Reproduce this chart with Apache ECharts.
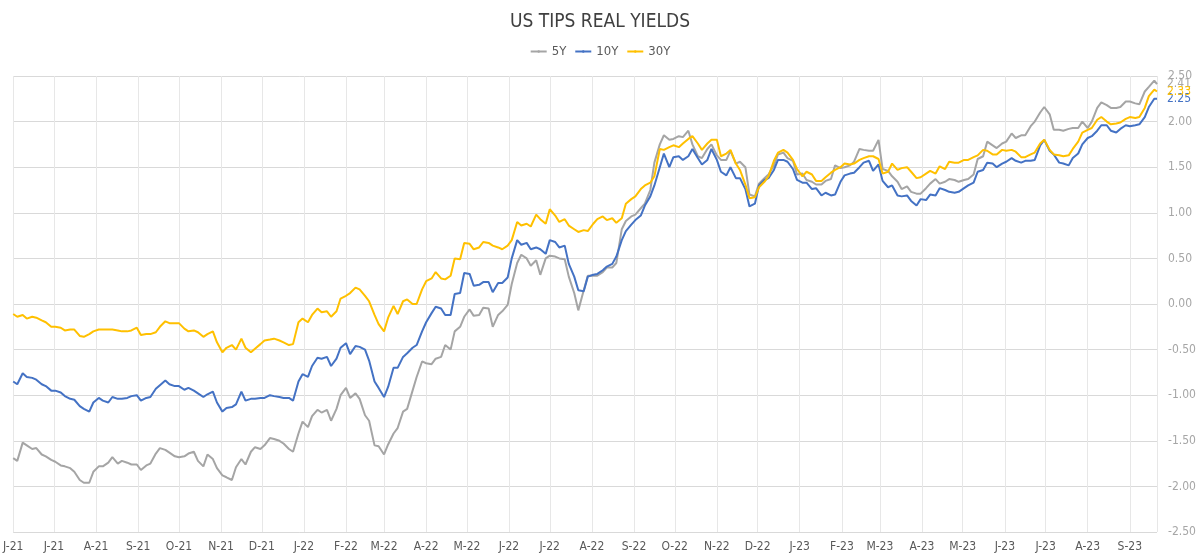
<!DOCTYPE html>
<html lang="en">

<head>
    <meta charset="UTF-8">
    <title>US TIPS Real Yields</title>
    <style>
        html,
        body {
            height: 100%;
            width: 100%;
            margin: 0;
            padding: 0;
            background: #fff;
        }
    </style>
</head>

<body>
    <div id="main" style="width: 1200px;height:558px;"></div>
    <script src="https://cdn.jsdelivr.net/npm/echarts@6/dist/echarts.min.js"></script>
    <script type="text/javascript">
        // observation dates (Tue / Fri)
        var dates = [
            '2021-06-01', '2021-06-04', '2021-06-08', '2021-06-11', '2021-06-15', '2021-06-18', '2021-06-22', '2021-06-25', '2021-06-29',
            '2021-07-02', '2021-07-06', '2021-07-09', '2021-07-13', '2021-07-16', '2021-07-20', '2021-07-23', '2021-07-27', '2021-07-30',
            '2021-08-03', '2021-08-06', '2021-08-10', '2021-08-13', '2021-08-17', '2021-08-20', '2021-08-24', '2021-08-27', '2021-08-31',
            '2021-09-03', '2021-09-07', '2021-09-10', '2021-09-14', '2021-09-17', '2021-09-21', '2021-09-24', '2021-09-28',
            '2021-10-01', '2021-10-05', '2021-10-08', '2021-10-12', '2021-10-15', '2021-10-19', '2021-10-22', '2021-10-26', '2021-10-29',
            '2021-11-02', '2021-11-05', '2021-11-09', '2021-11-12', '2021-11-16', '2021-11-19', '2021-11-23', '2021-11-26', '2021-11-30',
            '2021-12-03', '2021-12-07', '2021-12-10', '2021-12-14', '2021-12-17', '2021-12-21', '2021-12-24', '2021-12-28', '2021-12-31',
            '2022-01-04', '2022-01-07', '2022-01-11', '2022-01-14', '2022-01-18', '2022-01-21', '2022-01-25', '2022-01-28',
            '2022-02-01', '2022-02-04', '2022-02-08', '2022-02-11', '2022-02-15', '2022-02-18', '2022-02-22', '2022-02-25',
            '2022-03-01', '2022-03-04', '2022-03-08', '2022-03-11', '2022-03-15', '2022-03-18', '2022-03-22', '2022-03-25', '2022-03-29',
            '2022-04-01', '2022-04-05', '2022-04-08', '2022-04-12', '2022-04-15', '2022-04-19', '2022-04-22', '2022-04-26', '2022-04-29',
            '2022-05-03', '2022-05-06', '2022-05-10', '2022-05-13', '2022-05-17', '2022-05-20', '2022-05-24', '2022-05-27',
            '2022-05-31', '2022-06-03', '2022-06-07', '2022-06-10', '2022-06-14', '2022-06-17', '2022-06-21', '2022-06-24', '2022-06-28',
            '2022-07-01', '2022-07-05', '2022-07-08', '2022-07-12', '2022-07-15', '2022-07-19', '2022-07-22', '2022-07-26', '2022-07-29',
            '2022-08-02', '2022-08-05', '2022-08-09', '2022-08-12', '2022-08-16', '2022-08-19', '2022-08-23', '2022-08-26', '2022-08-30',
            '2022-09-02', '2022-09-06', '2022-09-09', '2022-09-13', '2022-09-16', '2022-09-20', '2022-09-23', '2022-09-27', '2022-09-30',
            '2022-10-04', '2022-10-07', '2022-10-11', '2022-10-14', '2022-10-18', '2022-10-21', '2022-10-25', '2022-10-28',
            '2022-11-01', '2022-11-04', '2022-11-08', '2022-11-11',
            '2022-11-15', '2022-11-18', '2022-11-22', '2022-11-25', '2022-11-29',
            '2022-12-02', '2022-12-06', '2022-12-09', '2022-12-13', '2022-12-16', '2022-12-20', '2022-12-23', '2022-12-27', '2022-12-30',
            '2023-01-03', '2023-01-06', '2023-01-10', '2023-01-13', '2023-01-17', '2023-01-20', '2023-01-24', '2023-01-27', '2023-01-31',
            '2023-02-03', '2023-02-07', '2023-02-10', '2023-02-14', '2023-02-17', '2023-02-21', '2023-02-24', '2023-02-28',
            '2023-03-03', '2023-03-07', '2023-03-10', '2023-03-14', '2023-03-17', '2023-03-21', '2023-03-24', '2023-03-28', '2023-03-31',
            '2023-04-04', '2023-04-07', '2023-04-11', '2023-04-14', '2023-04-18', '2023-04-21', '2023-04-25', '2023-04-28',
            '2023-05-02', '2023-05-05',
            '2023-05-09', '2023-05-12', '2023-05-16', '2023-05-19', '2023-05-23', '2023-05-26', '2023-05-30',
            '2023-06-02', '2023-06-06', '2023-06-09', '2023-06-13', '2023-06-16', '2023-06-20', '2023-06-23', '2023-06-27', '2023-06-30',
            '2023-07-04', '2023-07-07', '2023-07-11', '2023-07-14', '2023-07-18', '2023-07-21', '2023-07-25', '2023-07-28',
            '2023-08-01', '2023-08-04', '2023-08-08', '2023-08-11', '2023-08-15', '2023-08-18', '2023-08-22', '2023-08-25', '2023-08-29',
            '2023-09-01', '2023-09-05', '2023-09-08', '2023-09-12', '2023-09-15', '2023-09-19', '2023-09-21'
        ];

        var y5 = [
            -1.69, -1.72, -1.52, -1.55, -1.59, -1.58, -1.65, -1.67, -1.71,
            -1.73, -1.77, -1.78, -1.80, -1.84, -1.93, -1.96, -1.96, -1.84,
            -1.78, -1.78, -1.74, -1.68, -1.75, -1.72, -1.74, -1.76, -1.76,
            -1.82, -1.77, -1.75, -1.64, -1.58, -1.60, -1.63, -1.67,
            -1.68, -1.67, -1.64, -1.62, -1.72, -1.78, -1.65, -1.70, -1.80,
            -1.88, -1.90, -1.93, -1.79, -1.70, -1.76, -1.62, -1.57, -1.59,
            -1.55, -1.47, -1.48, -1.50, -1.53, -1.59, -1.62, -1.42, -1.29,
            -1.35, -1.23, -1.16, -1.19, -1.16, -1.28, -1.15, -1.00,
            -0.92, -1.03, -0.98, -1.04, -1.22, -1.28, -1.55, -1.56,
            -1.65, -1.54, -1.42, -1.36, -1.18, -1.15, -0.95, -0.80, -0.63,
            -0.65, -0.66, -0.60, -0.58, -0.45, -0.50, -0.30, -0.25, -0.14,
            -0.06, -0.13, -0.12, -0.04, -0.05, -0.25, -0.12, -0.08,
            -0.01, 0.22, 0.45, 0.54, 0.50, 0.42, 0.48, 0.32, 0.50,
            0.53, 0.52, 0.50, 0.49, 0.30, 0.12, -0.07, 0.15, 0.31,
            0.31, 0.31, 0.35, 0.40, 0.40, 0.45, 0.82, 0.91, 0.96,
            0.98, 1.05, 1.10, 1.25, 1.55, 1.75, 1.85, 1.80, 1.81,
            1.84, 1.83, 1.90, 1.75, 1.62, 1.60, 1.70, 1.75,
            1.63, 1.58, 1.58, 1.68,
            1.54, 1.56, 1.50, 1.20, 1.18,
            1.32, 1.38, 1.42, 1.52, 1.64, 1.66, 1.60, 1.57, 1.42,
            1.43, 1.36, 1.34, 1.31, 1.31, 1.35, 1.37, 1.52, 1.49,
            1.50, 1.52, 1.56, 1.70, 1.69, 1.68, 1.68, 1.80,
            1.48, 1.46, 1.40, 1.34, 1.26, 1.29, 1.23, 1.21, 1.21,
            1.27, 1.32, 1.37, 1.32, 1.34, 1.37, 1.36, 1.34,
            1.36, 1.37,
            1.42, 1.59, 1.62, 1.78, 1.74, 1.71, 1.76,
            1.78, 1.87, 1.82, 1.85, 1.85, 1.95, 2.00, 2.10, 2.16,
            2.08, 1.91, 1.91, 1.90, 1.92, 1.93, 1.93, 2.00,
            1.93, 2.00, 2.15, 2.21, 2.18, 2.15, 2.15, 2.16, 2.22,
            2.22, 2.20, 2.19, 2.33, 2.38, 2.45, 2.41
        ];

        var y10 = [
            -0.85, -0.88, -0.76, -0.80, -0.81, -0.83, -0.88, -0.90, -0.95,
            -0.95, -0.97, -1.01, -1.04, -1.05, -1.12, -1.15, -1.18, -1.08,
            -1.03, -1.06, -1.08, -1.02, -1.04, -1.04, -1.03, -1.01, -1.00,
            -1.06, -1.03, -1.02, -0.93, -0.89, -0.84, -0.88, -0.90,
            -0.90, -0.94, -0.92, -0.95, -0.98, -1.02, -0.99, -0.96, -1.08,
            -1.18, -1.14, -1.13, -1.10, -0.96, -1.06, -1.04, -1.04, -1.03,
            -1.03, -1.00, -1.01, -1.02, -1.03, -1.03, -1.06, -0.85, -0.77,
            -0.80, -0.68, -0.59, -0.60, -0.58, -0.68, -0.60, -0.48,
            -0.43, -0.55, -0.46, -0.47, -0.50, -0.62, -0.85, -0.92,
            -1.02, -0.91, -0.70, -0.70, -0.58, -0.54, -0.48, -0.45, -0.30,
            -0.20, -0.10, -0.03, -0.05, -0.12, -0.12, 0.11, 0.12, 0.34,
            0.33, 0.20, 0.21, 0.24, 0.24, 0.13, 0.23, 0.23,
            0.29, 0.50, 0.70, 0.65, 0.67, 0.60, 0.62, 0.60, 0.55,
            0.70, 0.68, 0.62, 0.64, 0.44, 0.30, 0.15, 0.14, 0.30,
            0.32, 0.33, 0.37, 0.41, 0.44, 0.52, 0.70, 0.80, 0.87,
            0.92, 0.97, 1.08, 1.18, 1.30, 1.50, 1.65, 1.50, 1.61,
            1.62, 1.58, 1.62, 1.70, 1.60, 1.53, 1.58, 1.70,
            1.58, 1.45, 1.41, 1.50,
            1.38, 1.38, 1.26, 1.07, 1.10,
            1.30, 1.36, 1.38, 1.47, 1.58, 1.58, 1.56, 1.48, 1.36,
            1.33, 1.33, 1.26, 1.27, 1.19, 1.22, 1.19, 1.20, 1.34,
            1.41, 1.43, 1.44, 1.50, 1.55, 1.57, 1.46, 1.53,
            1.35, 1.28, 1.30, 1.19, 1.18, 1.19, 1.13, 1.08, 1.15,
            1.14, 1.20, 1.19, 1.27, 1.25, 1.23, 1.22, 1.23,
            1.27, 1.30,
            1.33, 1.45, 1.47, 1.55, 1.54, 1.50, 1.54,
            1.56, 1.60, 1.57, 1.55, 1.57, 1.57, 1.58, 1.74, 1.80,
            1.68, 1.64, 1.55, 1.54, 1.52, 1.60, 1.65, 1.75,
            1.82, 1.84, 1.90, 1.96, 1.96, 1.90, 1.88, 1.92, 1.96,
            1.95, 1.96, 1.97, 2.05, 2.16, 2.25, 2.25
        ];

        var y30 = [
            -0.11, -0.14, -0.12, -0.16, -0.14, -0.15, -0.18, -0.20, -0.25,
            -0.25, -0.26, -0.29, -0.28, -0.28, -0.35, -0.36, -0.33, -0.30,
            -0.28, -0.28, -0.28, -0.28, -0.29, -0.30, -0.30, -0.29, -0.26,
            -0.34, -0.33, -0.33, -0.31, -0.25, -0.19, -0.21, -0.21,
            -0.21, -0.27, -0.30, -0.29, -0.31, -0.36, -0.33, -0.30, -0.42,
            -0.53, -0.48, -0.45, -0.50, -0.38, -0.48, -0.53, -0.49, -0.44,
            -0.40, -0.39, -0.38, -0.40, -0.42, -0.45, -0.44, -0.20, -0.16,
            -0.20, -0.12, -0.05, -0.09, -0.08, -0.14, -0.08, 0.06,
            0.09, 0.12, 0.18, 0.16, 0.09, 0.03, -0.12, -0.22,
            -0.30, -0.15, -0.02, -0.11, 0.03, 0.05, 0.00, 0.00, 0.16,
            0.25, 0.28, 0.35, 0.28, 0.27, 0.31, 0.50, 0.49, 0.67,
            0.66, 0.60, 0.62, 0.68, 0.67, 0.64, 0.62, 0.60,
            0.64, 0.70, 0.90, 0.86, 0.88, 0.85, 0.98, 0.93, 0.88,
            1.04, 0.97, 0.90, 0.93, 0.86, 0.82, 0.79, 0.81, 0.80,
            0.88, 0.93, 0.96, 0.92, 0.94, 0.89, 0.94, 1.10, 1.15,
            1.18, 1.26, 1.30, 1.33, 1.40, 1.70, 1.69, 1.72, 1.74,
            1.72, 1.76, 1.81, 1.84, 1.76, 1.69, 1.76, 1.80,
            1.80, 1.62, 1.65, 1.69,
            1.54, 1.47, 1.31, 1.16, 1.17,
            1.28, 1.34, 1.40, 1.57, 1.66, 1.69, 1.66, 1.58, 1.48,
            1.40, 1.45, 1.42, 1.35, 1.35, 1.39, 1.44, 1.47, 1.50,
            1.54, 1.53, 1.54, 1.58, 1.60, 1.62, 1.62, 1.59,
            1.43, 1.45, 1.54, 1.47, 1.49, 1.50, 1.45, 1.38, 1.39,
            1.43, 1.46, 1.43, 1.51, 1.48, 1.56, 1.55, 1.55,
            1.58, 1.58,
            1.61, 1.63, 1.69, 1.68, 1.64, 1.64, 1.69,
            1.68, 1.69, 1.67, 1.61, 1.61, 1.64, 1.66, 1.76, 1.80,
            1.69, 1.64, 1.63, 1.62, 1.63, 1.70, 1.78, 1.88,
            1.91, 1.93, 2.02, 2.05, 2.00, 1.97, 1.98, 1.99, 2.03,
            2.05, 2.04, 2.05, 2.15, 2.28, 2.35, 2.33
        ];

        var monthLetters = ['J', 'F', 'M', 'A', 'M', 'J', 'J', 'A', 'S', 'O', 'N', 'D'];
        var font = '"Liberation Sans Narrow", "DejaVu Sans Condensed", Roboto, sans-serif';

        function pairs(values) {
            return dates.map(function (d, i) {
                return [d, values[i]];
            });
        }

        function makeSeries(name, color, values) {
            return {
                name: name,
                type: 'line',
                symbol: 'none',
                lineStyle: {
                    width: 2,
                    color: color
                },
                itemStyle: {
                    color: color
                },
                endLabel: {
                    show: true,
                    distance: 10,
                    color: color,
                    fontSize: 12,
                    fontFamily: font,
                    formatter: function (p) {
                        return p.value[1].toFixed(2);
                    }
                },
                data: pairs(values)
            };
        }

        var myChart = echarts.init(document.getElementById('main'));
        var DAY = 24 * 3600 * 1000;

        option = {
            animation: false,
            title: {
                text: 'US TIPS REAL YIELDS',
                left: 'center',
                top: 8,
                textStyle: {
                    fontSize: 19,
                    fontWeight: 'normal',
                    color: '#404040',
                    fontFamily: font
                }
            },
            legend: {
                top: 40,
                left: 'center',
                itemWidth: 16,
                itemHeight: 3,
                itemGap: 8,
                textStyle: {
                    fontSize: 13,
                    color: '#595959',
                    fontFamily: font
                },
                data: ['5Y', '10Y', '30Y']
            },
            grid: {
                left: 12,
                right: 43,
                top: 76,
                bottom: 26
            },
            xAxis: {
                type: 'time',
                min: '2021-06-01',
                max: '2023-09-21',
                minInterval: 28 * DAY,
                maxInterval: 31 * DAY,
                axisLine: {
                    show: false
                },
                axisTick: {
                    show: false
                },
                splitLine: {
                    show: true,
                    lineStyle: {
                        color: '#e7e7e7'
                    }
                },
                axisLabel: {
                    color: '#595959',
                    fontSize: 12,
                    fontFamily: font,
                    margin: 9,
                    hideOverlap: false,
                    formatter: function (value) {
                        var d = new Date(value);
                        return monthLetters[d.getMonth()] + '-' + String(d.getFullYear()).slice(2);
                    }
                }
            },
            yAxis: {
                type: 'value',
                position: 'right',
                min: -2.5,
                max: 2.5,
                interval: 0.5,
                axisLine: {
                    show: false
                },
                axisTick: {
                    show: false
                },
                splitLine: {
                    lineStyle: {
                        color: '#d9d9d9'
                    }
                },
                axisLabel: {
                    color: '#a6a6a6',
                    fontSize: 12,
                    fontFamily: font,
                    margin: 11,
                    formatter: function (v) {
                        return v.toFixed(2);
                    }
                }
            },
            series: [
                makeSeries('5Y', '#a5a5a5', y5),
                makeSeries('10Y', '#4472c4', y10),
                makeSeries('30Y', '#ffc000', y30)
            ]
        };
        myChart.setOption(option);

        window.addEventListener("resize", function () {
            myChart.resize();
        });
    </script>
</body>

</html>
